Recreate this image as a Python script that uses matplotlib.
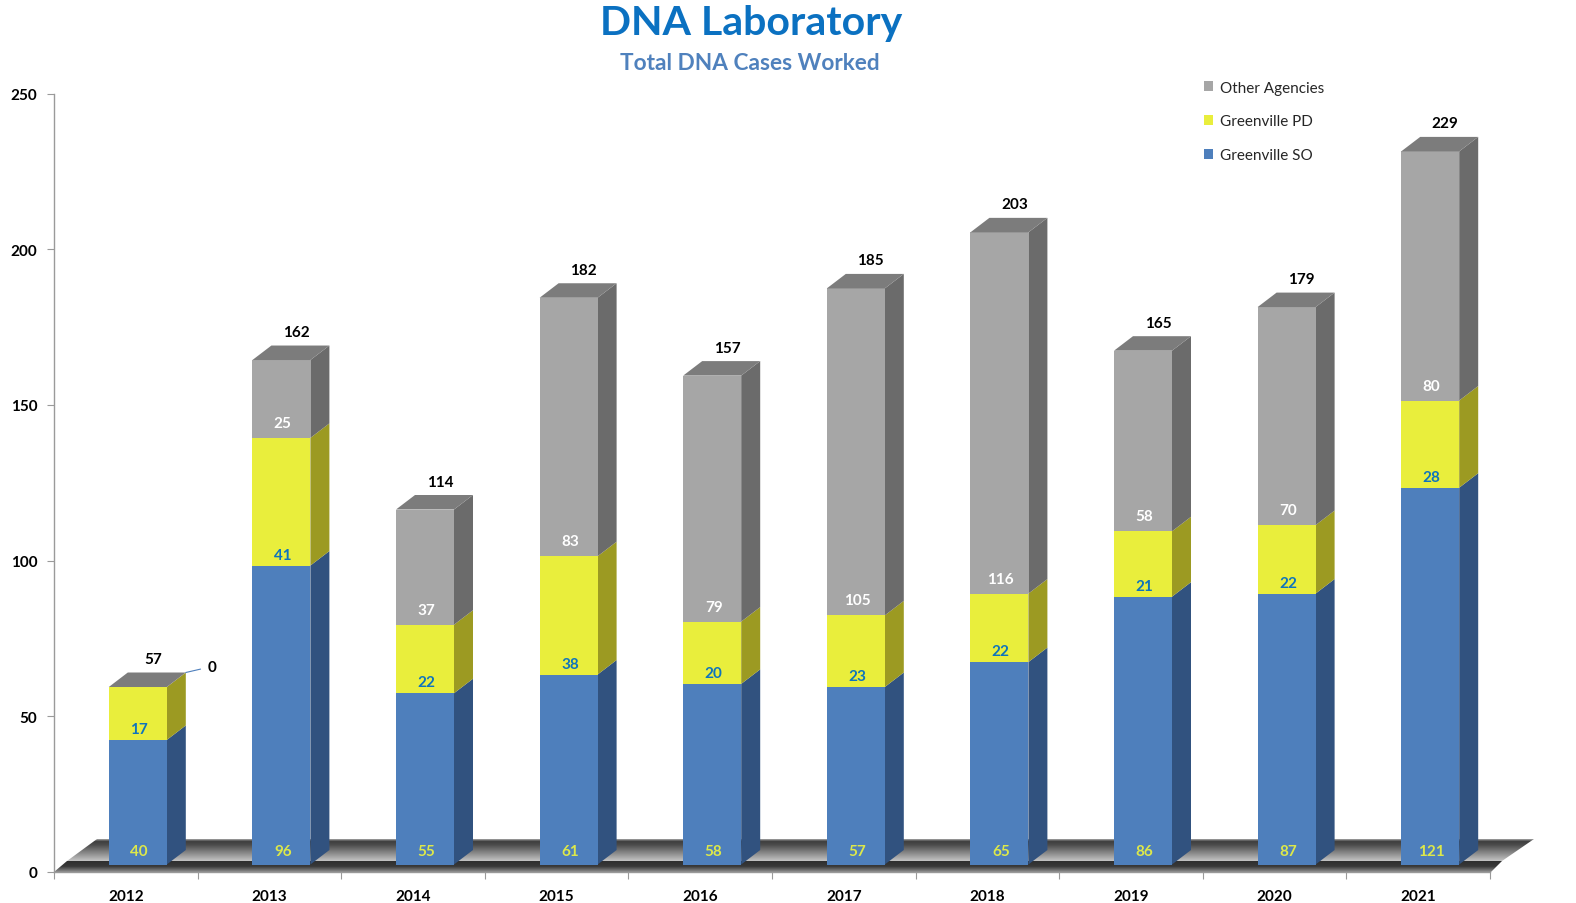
import numpy as np
import matplotlib
matplotlib.use("Agg")
import matplotlib.pyplot as plt
from matplotlib.patches import Polygon, Patch
from matplotlib.colors import LinearSegmentedColormap

years = ['2012', '2013', '2014', '2015', '2016', '2017', '2018', '2019', '2020', '2021']
greenville_so = [40, 96, 55, 61, 58, 57, 65, 86, 87, 121]
greenville_pd = [17, 41, 22, 38, 20, 23, 22, 21, 22, 28]
other_agencies = [0, 25, 37, 83, 79, 105, 116, 58, 70, 80]
totals = [57, 162, 114, 182, 157, 185, 203, 165, 179, 229]
series_names = ['Greenville SO', 'Greenville PD', 'Other Agencies']

plt.rcParams['font.family'] = ['Lato', 'DejaVu Sans']
W, H = 1576, 904
fig = plt.figure(figsize=(W / 100, H / 100), dpi=100, facecolor='white')
AX_L, AX_R, AX_T, AX_B = 54, 1490, 94.5, 873
ax = fig.add_axes([AX_L / W, 1 - AX_B / H, (AX_R - AX_L) / W, (AX_B - AX_T) / H])
ax.set_xlim(-0.5, 9.5)
ax.set_ylim(0, 250)
PX = 10 / (AX_R - AX_L)          # data x per pixel
PY = 250 / (AX_B - AX_T)         # data y per pixel

# 3-D look
BASE = 7.5 * PY
DX, DY = 19 * PX, 14.5 * PY
BAR_W = 58 * PX
BAR_SHIFT = 12 * PX
front = ['#4E7FBC', '#E9EE3C', '#A6A6A6']
side = ['#31527F', '#9C9A22', '#6B6B6B']
top_c = '#7C7C7C'
label_c = ['#DDE84A', '#0E74BC', '#FFFFFF']
label_off = [13, 11, 15]
LABEL_SIZE = 11


def px_x(p):
    return -0.5 + (p - AX_L) * PX


def px_y(p):
    return (AX_B - p) * PY


# floor
def floor(points, stops, y_top, y_bot):
    cmap = LinearSegmentedColormap.from_list('f', stops)
    grad = np.linspace(0, 1, 128).reshape(-1, 1)
    im = ax.imshow(grad, cmap=cmap, aspect='auto', zorder=1, origin='upper',
                   extent=[px_x(50), px_x(1540), px_y(y_bot), px_y(y_top)])
    poly = Polygon([(px_x(a), px_y(b)) for a, b in points], closed=True,
                   transform=ax.transData, fc='none', ec='none', clip_on=False)
    ax.add_patch(poly)
    im.set_clip_box(fig.bbox)
    im.set_clip_path(poly)


floor([(67, 862), (97, 840), (1534, 840), (1502, 862)],
      [(0, '#A8A8A8'), (0.1, '#3E3E3E'), (0.25, '#4A4A4A'), (1, '#C4C4C4')], 840, 862)
floor([(54, 873), (67, 862), (1502, 862), (1490, 874)],
      [(0, '#2E2E2E'), (0.45, '#3A3A3A'), (1, '#A0A0A0')], 862, 874)
ax.set_xlim(-0.5, 9.5)
ax.set_ylim(0, 250)

x = np.arange(len(years)) + BAR_SHIFT
series = [greenville_so, greenville_pd, other_agencies]
bottoms = np.full(len(years), BASE, dtype=float)
for s, vals in enumerate(series):
    vals = np.array(vals, dtype=float)
    ax.bar(x, vals, BAR_W, bottom=bottoms, color=front[s], zorder=4, clip_on=False)
    for xi, b, v in zip(x, bottoms, vals):
        if v == 0:
            continue
        r = xi + BAR_W / 2
        ax.add_patch(Polygon([(r, b), (r + DX, b + DY), (r + DX, b + v + DY), (r, b + v)],
                             closed=True, fc=side[s], ec='none', zorder=3, clip_on=False))
        ax.annotate(f'{int(v)}', (xi, b), xytext=(1, label_off[s] * 0.72),
                    textcoords='offset points', ha='center', va='center',
                    fontsize=LABEL_SIZE, fontweight='bold', color=label_c[s], zorder=6)
    bottoms = bottoms + vals

for i, (xi, t, total) in enumerate(zip(x, bottoms, totals)):
    l, r = xi - BAR_W / 2, xi + BAR_W / 2
    ax.add_patch(Polygon([(l, t), (r, t), (r + DX, t + DY), (l + DX, t + DY)],
                         closed=True, fc=top_c, ec='none', zorder=5, clip_on=False))
    ax.annotate(str(total), (xi, t), xytext=(15 * 0.72, 28 * 0.72), textcoords='offset points',
                ha='center', va='center', fontsize=LABEL_SIZE, fontweight='bold', color='black', zorder=6,
                annotation_clip=False)

# zero label for 2012 Other Agencies
ax.annotate(str(other_agencies[0]), (x[0] + BAR_W / 2 + DX, bottoms[0] + DY),
            xytext=(26 * 0.72, 6 * 0.72), textcoords='offset points', ha='center', va='center',
            fontsize=LABEL_SIZE, fontweight='bold', color='black', zorder=6,
            arrowprops=dict(arrowstyle='-', color='#4E7FBC', lw=0.8, shrinkA=3, shrinkB=0))

# axes
for sp in ['top', 'right']:
    ax.spines[sp].set_visible(False)
for sp in ['left', 'bottom']:
    ax.spines[sp].set_color('#9A9A9A')
    ax.spines[sp].set_linewidth(1.0)
    ax.spines[sp].set_zorder(2)
ax.set_yticks([0, 50, 100, 150, 200, 250])
ax.set_xticks(np.arange(-0.5, 10, 1))
ax.set_xticklabels([])
ax.set_xticks(np.arange(10), labels=years, minor=True)
ax.tick_params(axis='x', which='major', length=5, color='#9A9A9A')
ax.tick_params(axis='x', which='minor', length=0, pad=12)
ax.tick_params(axis='y', length=5, color='#9A9A9A', pad=7)
for t in ax.get_xticklabels(minor=True) + ax.get_yticklabels():
    t.set_fontsize(LABEL_SIZE)
    t.set_fontweight('bold')
    t.set_color('black')

# legend
handles = [Patch(fc=front[i], ec='none', label=series_names[i]) for i in (2, 1, 0)]
fig.legend(handles=handles, loc='upper left', bbox_to_anchor=(1199 / W, 1 - 77 / H), frameon=False,
           fontsize=11, handlelength=0.6, handleheight=0.6, handletextpad=0.45,
           labelspacing=1.3, labelcolor='#262626', borderpad=0.3, borderaxespad=0)

# titles
fig.text(751 / W, 1 - 23 / H, 'DNA Laboratory', ha='center', va='center', fontsize=29.5,
         fontweight='bold', color='#0B71C1')
fig.text(750 / W, 1 - 64 / H, 'Total DNA Cases Worked', ha='center', va='center', fontsize=16.3,
         fontweight='bold', color='#4F81BD')

fig.savefig('out.png', dpi=100, facecolor='white')
